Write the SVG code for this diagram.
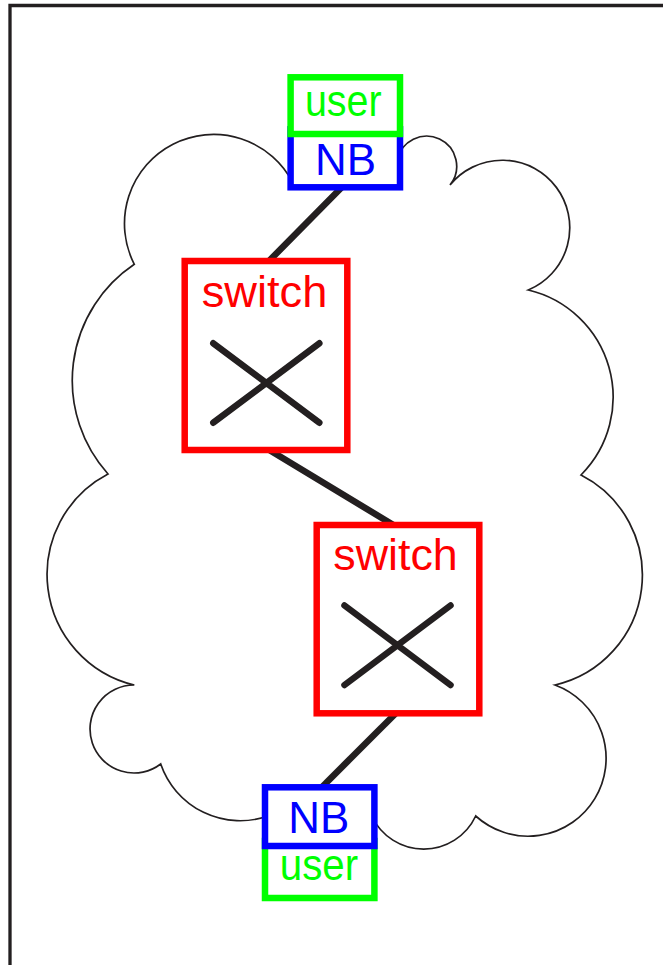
<svg xmlns="http://www.w3.org/2000/svg" width="663" height="965" viewBox="0 0 663 965">
<style>
.frame{fill:none;stroke:#231f20;stroke-width:3.3}
.cloud{fill:#fff;stroke:#231f20;stroke-width:1.7}
.sw{fill:#fff;stroke:#ff0000;stroke-width:6.5}
.nb{fill:#fff;stroke:#0000ff;stroke-width:6.5}
.us{fill:#fff;stroke:#00ff00;stroke-width:6.5}
.x{stroke:#231f20;stroke-width:6.5;stroke-linecap:round;fill:none}
.con{stroke:#231f20;stroke-width:6.5;stroke-linecap:round;fill:none}
text{font-family:"Liberation Sans",Arial,sans-serif;font-size:45px;text-anchor:middle}
.tr{fill:#ff0000}.tb{fill:#0000ff}.tg{fill:#00ff00}
</style>
<path class="frame" d="M10,965 V5.5 H663"/>
<g id="cloud">
<path class="cloud" d="M293,183 A88,88 0 1 0 134.3,264.3 A140,140 0 0 0 108,474 A113.5,113.5 0 0 0 134.3,685 A44,44 0 1 0 160.7,764 A84,84 0 0 0 268,816 A55,55 0 0 0 371.7,816 A57.4,57.4 0 0 0 475.7,816 A78,78 0 1 0 555,685 A112.6,112.6 0 0 0 581,475 A110.2,110.2 0 0 0 528.3,290 A67.5,67.5 0 1 0 450,185 A30,30 0 1 0 397.3,160 Z"/>
</g>
<g id="connectors">
<line class="con" x1="344" y1="185" x2="266.5" y2="263.5"/>
<line class="con" x1="266" y1="448" x2="397.5" y2="527.5"/>
<line class="con" x1="397.3" y1="711.7" x2="318.3" y2="790.7"/>
</g>
<g id="nb-top">
<rect class="nb" x="290.6" y="129.3" width="109.4" height="58"/>
<text class="tb" x="345.6" y="175" textLength="61" lengthAdjust="spacingAndGlyphs">NB</text>
</g>
<g id="user-top">
<rect class="us" x="290.6" y="77.3" width="109.4" height="56.7"/>
<text class="tg" x="343.3" y="116" textLength="76.7" lengthAdjust="spacingAndGlyphs">user</text>
</g>
<g id="switch-1">
<rect class="sw" x="184.7" y="261" width="162.6" height="189"/>
<text class="tr" x="264.5" y="306.7" textLength="125.6" lengthAdjust="spacingAndGlyphs">switch</text>
<path class="x" d="M213.3,343.3 L319.3,422.7 M213.3,422.7 L319.3,343.3"/>
</g>
<g id="switch-2">
<rect class="sw" x="316.7" y="525" width="162.6" height="188.3"/>
<text class="tr" x="395.5" y="570" textLength="124.4" lengthAdjust="spacingAndGlyphs">switch</text>
<path class="x" d="M344.5,605.5 L450.5,685 M344.5,685 L450.5,605.5"/>
</g>
<g id="user-bottom">
<rect class="us" x="265" y="841" width="109.4" height="57"/>
<text class="tg" x="319" y="880" textLength="78.3" lengthAdjust="spacingAndGlyphs">user</text>
</g>
<g id="nb-bottom">
<rect class="nb" x="265" y="787.3" width="109.4" height="58.7"/>
<text class="tb" x="318.8" y="832.7" textLength="61" lengthAdjust="spacingAndGlyphs">NB</text>
</g>
</svg>
